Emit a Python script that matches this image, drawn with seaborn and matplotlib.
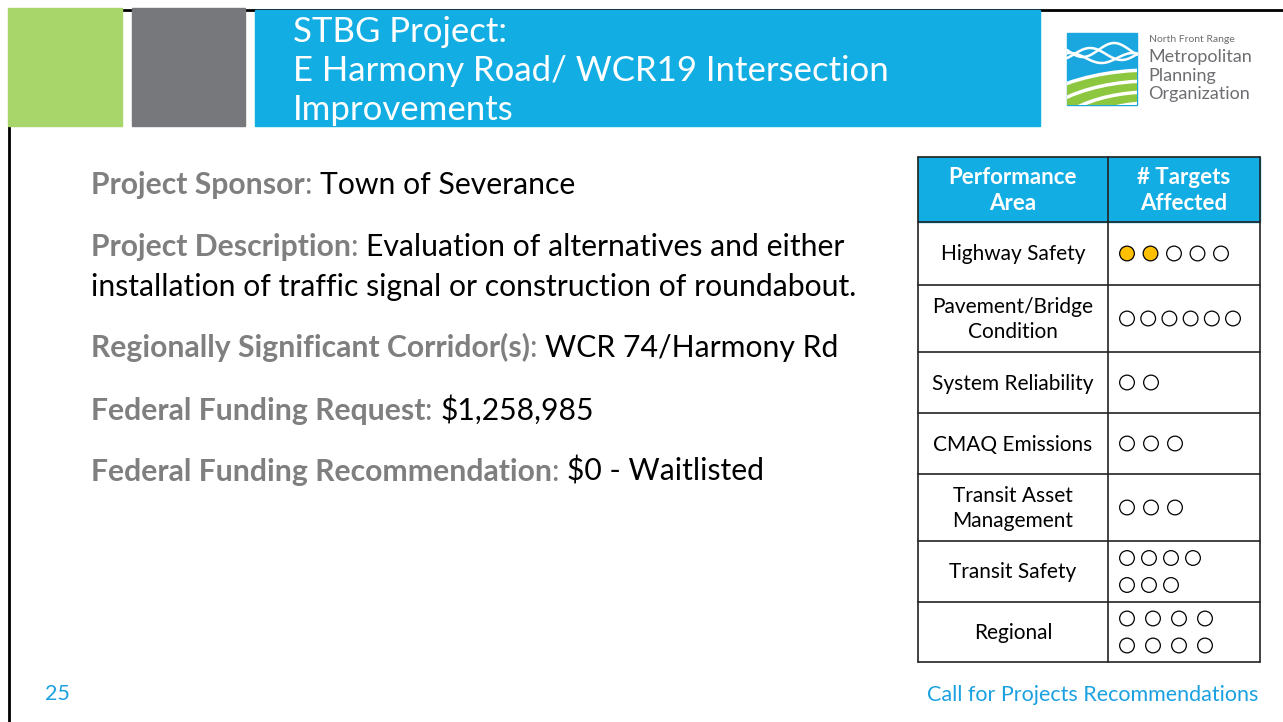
import numpy as np
import pandas as pd
import matplotlib.pyplot as plt
import seaborn as sns
from matplotlib.patches import Rectangle, Ellipse

sns.set_theme(style="white")
plt.rcParams['font.family'] = ['Lato', 'DejaVu Sans']

# ------------------ Data ------------------
title_lines = ["STBG Project:", "E Harmony Road/ WCR19 Intersection", "Improvements"]

info_labels = ["Project Sponsor", "Project Description", "Regionally Significant Corridor(s)",
               "Federal Funding Request", "Federal Funding Recommendation"]
info_values = ["Town of Severance",
               "Evaluation of alternatives and either\ninstallation of traffic signal or construction of roundabout.",
               "WCR 74/Harmony Rd", "$1,258,985", "$0 - Waitlisted"]

table_header = ["Performance\nArea", "# Targets\nAffected"]
areas = ["Highway Safety", "Pavement/Bridge\nCondition", "System Reliability", "CMAQ Emissions",
         "Transit Asset\nManagement", "Transit Safety", "Regional"]
targets_total = [5, 6, 2, 3, 3, 7, 8]
targets_hit = [2, 0, 0, 0, 0, 0, 0]
# circles per line inside the cell (wraps to a second line)
per_line = [5, 6, 2, 3, 3, 4, 4]

page_number = "25"
footer = "Call for Projects Recommendations"

BLUE = "#12AEE3"
GREEN = "#A8D66B"
GRAY = "#77787B"
LABEL_GRAY = "#7F7F7F"
FS = 21.7

# ------------------ Canvas in pixel coordinates ------------------
fig = plt.figure(figsize=(12.83, 7.22), dpi=100)
ax = fig.add_axes([0, 0, 1, 1])
ax.set_xlim(0, 1283)
ax.set_ylim(722, 0)
ax.axis("off")

# slide frame (left + top)
ax.plot([8.5, 8.5], [10, 722], color="black", lw=2)
ax.plot([8.5, 1283], [10, 10], color="black", lw=2)

# header blocks
ax.add_patch(Rectangle((8, 8), 114, 118, color=GREEN, zorder=3))
ax.add_patch(Rectangle((132, 8), 113, 118, color=GRAY, zorder=3))
ax.add_patch(Rectangle((255, 10), 785, 116, color=BLUE, zorder=3))
for i, line in enumerate(title_lines):
    ax.text(293, 32 + i * 39, line, color="white", fontsize=25,
            va="center", ha="left", zorder=4)

# logo
logo_box = Rectangle((1067, 33), 70, 72, color="#1AA7DF", zorder=3)
ax.add_patch(logo_box)
xs = np.linspace(1067, 1137, 80)
for ph, amp, y0 in [(0, 7, 50), (2.4, 6, 54), (4.4, 5, 58)]:
    ax.plot(xs, y0 + amp * np.sin((xs - 1067) / 10 + ph), color="white", lw=1.8, zorder=4)
g = Ellipse((1150, 150), 300, 160, facecolor="#8DC63F", edgecolor="white", lw=2.5, zorder=4)
ax.add_patch(g)
g.set_clip_path(logo_box)
for k in range(1, 5):
    e = Ellipse((1150, 150), 300 - k * 42, 160 - k * 22, fill=False,
                edgecolor="white", lw=2.5, zorder=4)
    ax.add_patch(e)
    e.set_clip_path(logo_box)
ax.text(1149, 40, "North Front Range", color="#6D6E71", fontsize=7.5, va="center", zorder=6)
for i, w in enumerate(["Metropolitan", "Planning", "Organization"]):
    ax.text(1148, 57 + i * 18.5, w, color="#6D6E71", fontsize=13, va="center", zorder=6)

# ------------------ Project info ------------------
info_y = [194, 256, 357, 420, 481]
for lab, val, y in zip(info_labels, info_values, info_y):
    t = ax.text(91, y, lab, color=LABEL_GRAY, fontsize=FS, fontweight="bold",
                va="baseline", ha="left")
    c = ax.annotate(": ", xy=(1, 0), xycoords=t, color=LABEL_GRAY, fontsize=FS,
                    va="bottom", ha="left")
    first, *rest = val.split("\n")
    ax.annotate(first, xy=(1, 0), xycoords=c, color="black", fontsize=FS,
                va="bottom", ha="left")
    for j, extra in enumerate(rest):
        ax.text(91, y + 40 * (j + 1), extra, color="black", fontsize=FS,
                va="baseline", ha="left")

# ------------------ Table ------------------
x0, xm, x1 = 918, 1108, 1260
row_edges = [157, 222, 285, 352, 413, 474, 541, 602, 662]
ax.add_patch(Rectangle((x0, row_edges[0]), x1 - x0, row_edges[1] - row_edges[0],
                       color=BLUE, zorder=1))
for y in row_edges:
    ax.plot([x0, x1], [y, y], color="#222222", lw=1.2, zorder=2)
for x in [x0, xm, x1]:
    ax.plot([x, x], [row_edges[0], row_edges[-1]], color="#222222", lw=1.2, zorder=2)

ax.text((x0 + xm) / 2, (row_edges[0] + row_edges[1]) / 2 + 1, table_header[0], color="white",
        fontsize=16, fontweight="bold", ha="center", va="center", linespacing=1.25)
ax.text((xm + x1) / 2, (row_edges[0] + row_edges[1]) / 2 + 1, table_header[1], color="white",
        fontsize=16, fontweight="bold", ha="center", va="center", linespacing=1.25)

rows = []
for i, (area, tot, hit, pl) in enumerate(zip(areas, targets_total, targets_hit, per_line)):
    top, bot = row_edges[i + 1], row_edges[i + 2]
    yc = (top + bot) / 2
    ax.text((x0 + xm) / 2, yc + 1, area, color="black", fontsize=15, ha="center", va="center",
            linespacing=1.3)
    n_lines = int(np.ceil(tot / pl))
    step = {5: 23.5, 6: 21.2, 2: 24, 3: 24}.get(tot, 22)
    if area == "Regional":
        step = 26
    for k in range(tot):
        line, pos = divmod(k, pl)
        y = yc + (line - (n_lines - 1) / 2) * 27
        rows.append({"x": 1127 + pos * step, "y": y, "hit": k < hit})

circles = pd.DataFrame(rows)
sns.scatterplot(data=circles, x="x", y="y", hue="hit", palette={True: "#FFC000", False: "white"},
                s=112, edgecolor="black", linewidth=0.9, legend=False, ax=ax, zorder=5)
ax.set_xlim(0, 1283)
ax.set_ylim(722, 0)
ax.axis("off")

# ------------------ Footer ------------------
ax.text(45, 694, page_number, color="#1BA1E2", fontsize=15.5, ha="left", va="center")
ax.text(1258, 695, footer, color="#1BA1E2", fontsize=15.5, ha="right", va="center")

fig.savefig("out.png", dpi=100)
